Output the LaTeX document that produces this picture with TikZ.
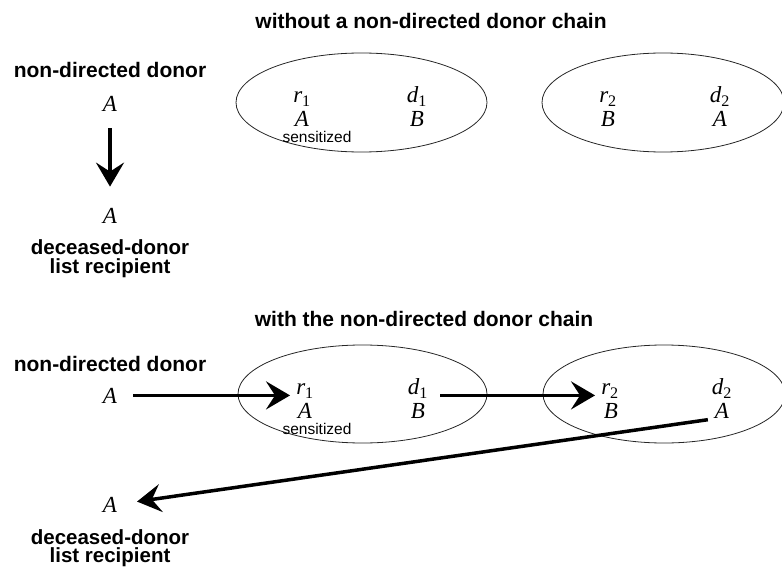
\documentclass[tikz,border=0pt]{standalone}
\usepackage{fontspec}
\setmainfont{Liberation Sans}
\newfontfamily\tms{Liberation Serif}
\usetikzlibrary{arrows.meta,shapes.geometric}
\begin{document}
\begin{tikzpicture}[x=1pt,y=-1pt,
  title/.style={font=\fontsize{21}{24}\selectfont\bfseries, anchor=base, inner sep=0pt},
  lbl/.style={font=\fontsize{21}{24}\selectfont\bfseries, anchor=base, inner sep=0pt},
  twolbl/.style={font=\fontsize{20.5}{18.5}\selectfont\bfseries, anchor=base, inner sep=0pt, align=center},
  var/.style={font=\fontsize{23}{26}\tms\itshape, anchor=base, inner sep=0pt},
  note/.style={font=\fontsize{15.5}{18}\selectfont, anchor=base, inner sep=0pt},
  pair/.style={draw=black!85, line width=0.8pt, ellipse, inner sep=0pt},
  bigarrow/.style={line width=3.5pt, -{Stealth[length=24pt,width=28pt,inset=9pt]}}]
\useasboundingbox (0,0) rectangle (782,567);

% ---------- top half ----------
\node[title] (t1) at (431,29) {without a non-directed donor chain};

\node[pair, minimum width=251pt, minimum height=99pt] (e1) at (361.5,102.5) {};
\node[pair, minimum width=242pt, minimum height=99pt] (e2) at (663,102.5) {};

\node[lbl] (nd1) at (110,78) {non-directed donor};
\node[var] (ndA1) at (110,112) {A};
\node[var] (rcA1) at (110,223) {A};
\node[twolbl] (rc1) at (110,273) {deceased-donor\\list recipient};

\node[var] (r1t) at (302,103) {r\textsubscript{\upshape 1}};
\node[var] (a1t) at (302,127) {A};
\node[note] (s1t) at (317,143) {sensitized};
\node[var] (d1t) at (417,103) {d\textsubscript{\upshape 1}};
\node[var] (b1t) at (417,127) {B};
\node[var] (r2t) at (608,103) {r\textsubscript{\upshape 2}};
\node[var] (b2t) at (608,127) {B};
\node[var] (d2t) at (720,103) {d\textsubscript{\upshape 2}};
\node[var] (a2t) at (720,127) {A};

\draw[bigarrow, shorten <=16pt, shorten >=21pt] (ndA1.south) -- (rcA1.north);

% ---------- bottom half ----------
\node[title] (t2) at (424,326) {with the non-directed donor chain};

\node[pair, minimum width=249pt, minimum height=98pt] (e3) at (362.5,394) {};
\node[pair, minimum width=242pt, minimum height=98pt] (e4) at (664,394) {};

\node[lbl] (nd2) at (110,371) {non-directed donor};
\node[var] (ndA2) at (110,403) {A};
\node[var] (rcA2) at (110,512) {A};
\node[twolbl] (rc2) at (110,562.5) {deceased-donor\\list recipient};

\node[var] (r1b) at (305,394.5) {r\textsubscript{\upshape 1}};
\node[var] (a1b) at (305,418.5) {A};
\node[note] (s1b) at (317,434) {sensitized};
\node[var] (d1b) at (418,394.5) {d\textsubscript{\upshape 1}};
\node[var] (b1b) at (418,418.5) {B};
\node[var] (r2b) at (610,394.5) {r\textsubscript{\upshape 2}};
\node[var] (b2b) at (611,418.5) {B};
\node[var] (d2b) at (722,394.5) {d\textsubscript{\upshape 2}};
\node[var] (a2b) at (722,418.5) {A};

\draw[bigarrow, shorten <=16pt, shorten >=6pt] (ndA2.east) -- (r1b.west |- ndA2.east);
\draw[bigarrow, shorten <=12pt, shorten >=6pt] (d1b.east |- ndA2.east) -- (r2b.west |- ndA2.east);
\draw[bigarrow, shorten <=7pt, shorten >=20pt] (a2b.south west) -- (rcA2.east);
\end{tikzpicture}
\end{document}
